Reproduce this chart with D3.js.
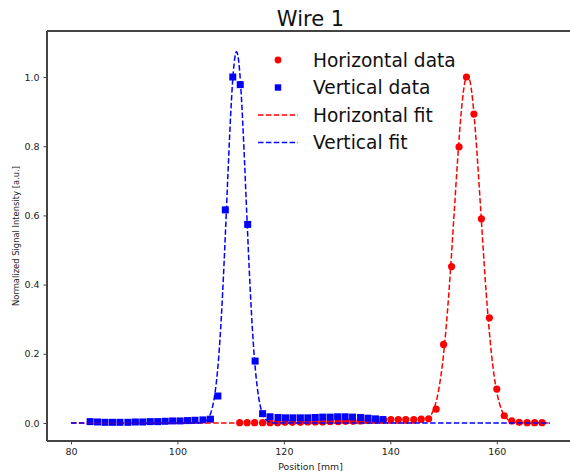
<html>
<head>
	<title>Wire 1</title>
</head>

<style>
body{
	margin: 0;
	background: white;
}
text{
	font-family: "DejaVu Sans", sans-serif;
}
.spine{
	stroke: #444;
	stroke-width: 1.1px;
	shape-rendering: crispEdges;
}
.fit{
	fill: none;
	stroke-width: 1.5px;
	stroke-dasharray: 5.5,2.4;
}
</style>

<body>

<script src="https://cdn.jsdelivr.net/npm/d3@7/dist/d3.min.js" charset="utf-8"></script>
<script>

// horizontal scan: positions [mm] and normalized signal
var hPos = [111.7, 113.1, 114.5, 116.0, 117.4, 118.8, 120.2, 121.6, 123.1, 124.5,
            125.9, 127.3, 128.7, 130.2, 131.6, 133.0, 134.4, 135.8, 137.3, 138.7,
            140.1, 141.5, 142.9, 144.4, 145.8, 147.2, 148.6, 150.0, 151.5, 152.9,
            154.3, 155.7, 157.1, 158.6, 160.0, 161.4, 162.8, 164.2, 165.7, 167.1, 168.5];
var hVal = [0.001, 0.001, 0.001, 0.001, 0.001, 0.001, 0.002, 0.002, 0.002, 0.003,
            0.003, 0.003, 0.004, 0.004, 0.005, 0.005, 0.006, 0.007, 0.008, 0.009,
            0.010, 0.010, 0.010, 0.010, 0.011, 0.012, 0.040, 0.227, 0.452, 0.798,
            1.000, 0.893, 0.590, 0.304, 0.098, 0.021, 0.006, 0.002, 0.001, 0.001, 0.001];

// vertical scan
var vPos = [83.6, 85.0, 86.4, 87.8, 89.2, 90.7, 92.1, 93.5, 94.9, 96.3,
            97.7, 99.1, 100.5, 101.9, 103.3, 104.8, 106.2, 107.6, 109.0, 110.4,
            111.8, 113.2, 114.6, 116.0, 117.4, 118.9, 120.3, 121.7, 123.1, 124.5,
            125.9, 127.3, 128.7, 130.1, 131.5, 132.9, 134.4, 135.8, 137.2, 138.6];
var vVal = [0.004, 0.003, 0.002, 0.002, 0.002, 0.002, 0.003, 0.003, 0.004, 0.004,
            0.005, 0.006, 0.006, 0.007, 0.008, 0.009, 0.011, 0.078, 0.616, 1.000,
            0.978, 0.574, 0.179, 0.027, 0.018, 0.016, 0.015, 0.015, 0.015, 0.015,
            0.016, 0.017, 0.017, 0.018, 0.018, 0.017, 0.016, 0.014, 0.012, 0.010];

// gaussian fit curves, sampled
var hFitPos = [80, 144, 145, 146, 147, 148, 149, 150, 151, 152, 152.5, 153, 153.5, 154, 154.5,
               155, 155.5, 156, 156.5, 157, 158, 159, 160, 161, 162, 163, 164, 165, 170];
var hFitVal = [0, 0, 0.001, 0.003, 0.011, 0.034, 0.089, 0.199, 0.377, 0.610, 0.730, 0.839, 0.928, 0.985, 1.005,
               0.985, 0.928, 0.839, 0.730, 0.610, 0.377, 0.199, 0.089, 0.034, 0.011, 0.003, 0.001, 0, 0];

var vFitPos = [80, 104, 105, 105.5, 106, 106.5, 107, 107.5, 108, 108.5, 109, 109.5, 110, 110.5, 111.1,
               111.5, 112, 112.5, 113, 113.5, 114, 114.5, 115, 115.5, 116, 116.5, 117, 117.5, 118.5, 170];
var vFitVal = [0, 0, 0.003, 0.008, 0.019, 0.041, 0.080, 0.145, 0.243, 0.378, 0.543, 0.723, 0.890, 1.015, 1.073,
               1.047, 0.947, 0.793, 0.615, 0.441, 0.293, 0.180, 0.103, 0.054, 0.026, 0.012, 0.005, 0.002, 0, 0];

var xTicks = [80, 100, 120, 140, 160];
var yTicks = [0.0, 0.2, 0.4, 0.6, 0.8, 1.0];

var legendNames = ["Horizontal data", "Vertical data", "Horizontal fit", "Vertical fit"];

var width = 570;
var height = 473;

var plot = {left: 47, right: 574, top: 31, bottom: 441};

var svg = d3.select("body").append("svg")
			.attr("width", width)
			.attr("height", height);

var x = d3.scaleLinear().domain([75.5, 174.5]).range([plot.left, plot.right]);
var y = d3.scaleLinear().domain([-0.052, 1.133]).range([plot.bottom, plot.top]);

function pairs(xs, ys){
	return xs.map(function(d, i){ return [d, ys[i]]; });
}

var line = d3.line()
	.x(function(d){ return x(d[0]); })
	.y(function(d){ return y(d[1]); })
	.curve(d3.curveMonotoneX);

var g = svg.append("g");

// data first, fits on top
g.selectAll(".hdot").data(pairs(hPos, hVal)).enter()
	.append("circle")
	.attr("class", "hdot")
	.attr("cx", function(d){ return x(d[0]); })
	.attr("cy", function(d){ return y(d[1]); })
	.attr("r", 3.6)
	.attr("fill", "#ff0000");

var sq = 7;
g.selectAll(".vsq").data(pairs(vPos, vVal)).enter()
	.append("rect")
	.attr("class", "vsq")
	.attr("x", function(d){ return x(d[0]) - sq / 2; })
	.attr("y", function(d){ return y(d[1]) - sq / 2; })
	.attr("width", sq)
	.attr("height", sq)
	.attr("fill", "#0000ff");

g.append("path")
	.datum(pairs(hFitPos, hFitVal))
	.attr("class", "fit")
	.attr("stroke", "#ff0000")
	.attr("d", line);

g.append("path")
	.datum(pairs(vFitPos, vFitVal))
	.attr("class", "fit")
	.attr("stroke", "#0000ff")
	.attr("d", line);

// spines
svg.append("line").attr("class", "spine")
	.attr("x1", plot.left).attr("x2", plot.left).attr("y1", plot.top).attr("y2", plot.bottom);
svg.append("line").attr("class", "spine")
	.attr("x1", plot.left).attr("x2", plot.right).attr("y1", plot.bottom).attr("y2", plot.bottom);
svg.append("line").attr("class", "spine")
	.attr("x1", plot.left).attr("x2", plot.right).attr("y1", plot.top).attr("y2", plot.top);
svg.append("line").attr("class", "spine")
	.attr("x1", plot.right).attr("x2", plot.right).attr("y1", plot.top).attr("y2", plot.bottom);

// axes
var xAxis = svg.append("g")
	.attr("transform", "translate(0," + plot.bottom + ")")
	.call(d3.axisBottom(x).tickValues(xTicks).tickSize(3.5).tickPadding(4).tickFormat(d3.format("d")));
var yAxis = svg.append("g")
	.attr("transform", "translate(" + plot.left + ",0)")
	.call(d3.axisLeft(y).tickValues(yTicks).tickSize(3.5).tickPadding(4).tickFormat(d3.format(".1f")));

[xAxis, yAxis].forEach(function(a){
	a.select(".domain").remove();
	a.selectAll(".tick line").attr("stroke", "#444");
	a.selectAll(".tick text")
		.attr("font-family", "DejaVu Sans")
		.attr("font-size", 9.5)
		.attr("fill", "#222");
});

svg.append("text")
	.attr("x", (plot.left + plot.right) / 2)
	.attr("y", 470)
	.attr("text-anchor", "middle")
	.attr("font-size", 9.3)
	.attr("fill", "#222")
	.text("Position [mm]");

svg.append("text")
	.attr("transform", "translate(19," + (plot.top + plot.bottom) / 2 + ") rotate(-90)")
	.attr("text-anchor", "middle")
	.attr("font-size", 8.4)
	.attr("fill", "#222")
	.text("Normalized Signal Intensity [a.u.]");

svg.append("text")
	.attr("x", (plot.left + plot.right) / 2)
	.attr("y", 26)
	.attr("text-anchor", "middle")
	.attr("font-size", 21)
	.attr("fill", "#111")
	.text("Wire 1");

// legend, no frame
var legend = svg.append("g").attr("transform", "translate(258,60)");
var rowH = 27.5;

legend.append("circle").attr("cx", 20).attr("cy", 0).attr("r", 3.4).attr("fill", "#ff0000");
legend.append("rect").attr("x", 20 - 3.2).attr("y", rowH - 3.2).attr("width", 6.4).attr("height", 6.4).attr("fill", "#0000ff");
legend.append("line").attr("class", "fit").attr("stroke", "#ff0000")
	.attr("x1", 0).attr("x2", 40).attr("y1", rowH * 2).attr("y2", rowH * 2);
legend.append("line").attr("class", "fit").attr("stroke", "#0000ff")
	.attr("x1", 0).attr("x2", 40).attr("y1", rowH * 3).attr("y2", rowH * 3);

legend.selectAll(".lab").data(legendNames).enter()
	.append("text")
	.attr("class", "lab")
	.attr("x", 55)
	.attr("y", function(d, i){ return i * rowH; })
	.attr("dy", "0.36em")
	.attr("font-size", 18.6)
	.attr("fill", "#111")
	.text(function(d){ return d; });

</script>
</body>
</html>
